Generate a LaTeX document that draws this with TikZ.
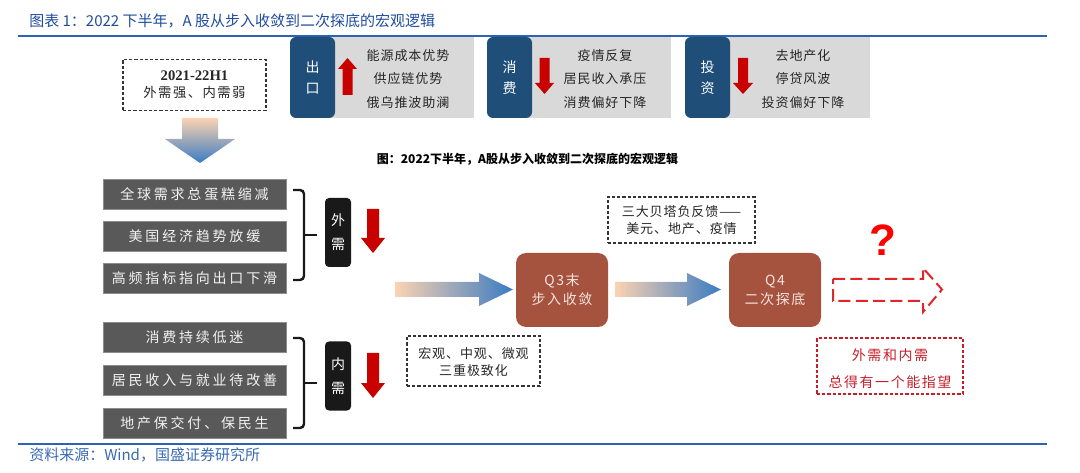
\documentclass[tikz,border=0pt]{standalone}
\usepackage{fontspec}
\setmainfont{Noto Sans CJK SC}
\newfontfamily\cjk{Noto Sans CJK SC}
\newfontfamily\cjkA{Noto Sans CJK SC}[LetterSpace=7]
\newfontfamily\cjkB{Noto Sans CJK SC}[LetterSpace=20]
\newfontfamily\cjkC{Noto Sans CJK SC}[LetterSpace=11]
\newfontfamily\tnr{Liberation Serif}
\newfontfamily\arialf{Liberation Sans}
\definecolor{titleblue}{HTML}{1F4C9E}
\definecolor{srcblue}{HTML}{3A6AB0}
\definecolor{lineblue}{HTML}{2C63B3}
\definecolor{darkbox}{HTML}{1F4E79}
\definecolor{stripgray}{HTML}{D9D9D9}
\definecolor{arrred}{HTML}{C80000}
\definecolor{boxgray}{HTML}{595959}
\definecolor{boxedge}{HTML}{8C8C8C}
\definecolor{qbrown}{HTML}{A5523F}
\definecolor{qtext}{HTML}{F6E4DE}
\definecolor{gorange}{HTML}{FCD3B2}
\definecolor{gblue}{HTML}{3A7BC2}
\definecolor{dashred}{HTML}{E0252B}
\definecolor{redtext}{HTML}{C41E2A}
\definecolor{txt}{HTML}{262626}
\begin{document}
\begin{tikzpicture}[x=0.75pt,y=-0.75pt,
  lbl/.style={inner sep=0pt, align=center, text=txt},
  darkstack/.style={fill=darkbox, rounded corners=4.5pt, minimum width=33.75pt, minimum height=60.75pt, inner sep=0pt, text=white, align=center, font=\cjk\fontsize{10.5pt}{15.75pt}\selectfont},
  toptxt/.style={lbl, font=\cjkA\fontsize{9.75pt}{17.6pt}\selectfont},
  gbox/.style={fill=boxgray, draw=boxedge, line width=0.6pt, minimum width=137.25pt, minimum height=22pt, inner sep=0pt, text=white!95!black, font=\cjkB\fontsize{10.5pt}{12pt}\selectfont},
  blkbox/.style={fill=black!90, rounded corners=3pt, minimum width=19.5pt, minimum height=51.75pt, inner sep=0pt, text=white, align=center, font=\cjk\fontsize{10.5pt}{18pt}\selectfont},
  qbox/.style={fill=qbrown, rounded corners=7.5pt, minimum width=69pt, minimum height=55.5pt, inner sep=0pt, text=qtext, align=center, font=\cjkC\fontsize{10.5pt}{14.25pt}\selectfont},
  dbox/.style={draw=black!80, line width=1.1pt, dash pattern=on 2.4pt off 1.5pt, inner sep=0pt, align=center, text=txt},
  bracestyle/.style={line width=1.8pt, black!90, rounded corners=3pt},
  redarrow/.style={fill=arrred},
]
\useasboundingbox (0,0) rectangle (1080,473);

% title and rules
\node[anchor=west, inner sep=0pt, text=titleblue, font=\cjk\fontsize{11.25pt}{13pt}\selectfont] (title) at (29,21) {图表 1：2022 下半年，A 股从步入收敛到二次探底的宏观逻辑};
\draw[lineblue, line width=1.6pt] (18,36) -- (1047,36);
\draw[lineblue, line width=1.6pt] (18,444) -- (1047,444);
\node[anchor=west, inner sep=0pt, text=srcblue, font=\cjk\fontsize{11.25pt}{13pt}\selectfont] (source) at (29,455) {资料来源：Wind，国盛证券研究所};

% top strip
\fill[stripgray] (312,37) rectangle (474,118);
\fill[stripgray] (509,37) rectangle (671,118);
\fill[stripgray] (707,37) rectangle (870,118);
\node[darkstack] (ck) at (312.5,77.5) {出\\口};
\node[darkstack] (xf) at (509.5,77.5) {消\\费};
\node[darkstack] (tz) at (707.5,77.5) {投\\资};
\fill[redarrow] (347.5,58) -- (357,69) -- (352.5,69) -- (352.5,95) -- (342.5,95) -- (342.5,69) -- (338,69) -- cycle;
\fill[redarrow] (539.5,58) -- (549.5,58) -- (549.5,83) -- (554,83) -- (544.5,94) -- (535,83) -- (539.5,83) -- cycle;
\fill[redarrow] (738,58) -- (748,58) -- (748,83) -- (753,83) -- (743,94) -- (733,83) -- (738,83) -- cycle;
\node[toptxt] (t1) at (408,79) {能源成本优势\\供应链优势\\俄乌推波助澜};
\node[toptxt] (t2) at (605,79) {疫情反复\\居民收入承压\\消费偏好下降};
\node[toptxt] (t3) at (803,79) {去地产化\\停贷风波\\投资偏好下降};

% 2021-22H1 box
\node[dbox, minimum width=107.25pt, minimum height=38.25pt] (h1box) at (194.5,85) {};
\node[lbl, font=\fontsize{10.5pt}{13pt}\selectfont] (h1) at (194.5,85) {{\tnr\bfseries\fontsize{11pt}{13pt}\selectfont 2021-22H1}\\{\cjkC\fontsize{10pt}{13pt}\selectfont 外需强、内需弱}};

% big down arrow
\shade[top color=gorange, bottom color=gblue] (182,118) -- (218,118) -- (218,139) -- (235,139) -- (200,163) -- (165,139) -- (182,139) -- cycle;

% subtitle
\node[inner sep=0pt, text=black, font=\cjk\bfseries\fontsize{9pt}{10pt}\selectfont] (sub) at (527.5,159) {图：2022下半年，A股从步入收敛到二次探底的宏观逻辑};

% left boxes
\node[gbox] (l1) at (194.5,194.5) {全球需求总蛋糕缩减};
\node[gbox] (l2) at (194.5,236.5) {美国经济趋势放缓};
\node[gbox] (l3) at (194.5,278.5) {高频指标指向出口下滑};
\node[gbox] (l4) at (194.5,337.5) {消费持续低迷};
\node[gbox] (l5) at (194.5,380.5) {居民收入与就业待改善};
\node[gbox] (l6) at (194.5,423.5) {地产保交付、保民生};

% braces
\draw[bracestyle] (293,190) -- (304,190) -- (304,280) -- (293,280);
\draw[line width=1.8pt, black!90] (304,235) -- (317,235);
\draw[bracestyle] (293,338) -- (304,338) -- (304,428) -- (293,428);
\draw[line width=1.8pt, black!90] (304,383) -- (317,383);

% outer / inner demand
\node[blkbox] (wx) at (338,232.5) {外\\需};
\node[blkbox] (nx) at (338,376) {内\\需};
\fill[redarrow] (367,209) -- (379,209) -- (379,238) -- (385,238) -- (373,253) -- (361,238) -- (367,238) -- cycle;
\fill[redarrow] (367,353) -- (379,353) -- (379,383) -- (385,383) -- (373,398) -- (361,383) -- (367,383) -- cycle;

% Q boxes and gradient arrows
\node[qbox] (q3) at (562,290) {Q3末\\步入收敛};
\node[qbox] (q4) at (775,290) {Q4\\二次探底};
\shade[left color=gorange, right color=gblue] (395,282) -- (479,282) -- (479,273) -- (513,289.5) -- (479,306) -- (479,297) -- (395,297) -- cycle;
\shade[left color=gorange, right color=gblue] (615,282) -- (687,282) -- (687,273) -- (721,289.5) -- (687,306) -- (687,297) -- (615,297) -- cycle;

% dashed notes
\node[dbox, minimum width=110.25pt, minimum height=34.5pt] (betabox) at (681.5,220) {};
\node[lbl, font=\cjkA\fontsize{9.75pt}{12.75pt}\selectfont] (beta) at (681.5,220) {三大贝塔负反馈——\\美元、地产、疫情};
\node[dbox, minimum width=99.75pt, minimum height=37.5pt] (hgbox) at (473.5,361) {};
\node[lbl, font=\cjkA\fontsize{9.75pt}{12.75pt}\selectfont] (hg) at (473.5,362) {宏观、中观、微观\\三重极致化};

% future
\draw[dashred, line width=1.5pt, dash pattern=on 9pt off 4pt] (833,279) -- (923,279) -- (923,268) -- (942,289.5) -- (923,312) -- (923,301) -- (833,301) -- cycle;
\node[inner sep=0pt, text=red, font=\arialf\bfseries\fontsize{33pt}{33pt}\selectfont] (qm) at (883,240) {?};
\node[dbox, draw=redtext, minimum width=109.5pt, minimum height=42pt] (hopebox) at (890,366) {};
\node[lbl, text=redtext, font=\cjkC\fontsize{10.5pt}{20pt}\selectfont] (hope) at (890,369) {外需和内需\\总得有一个能指望};
\end{tikzpicture}
\end{document}
